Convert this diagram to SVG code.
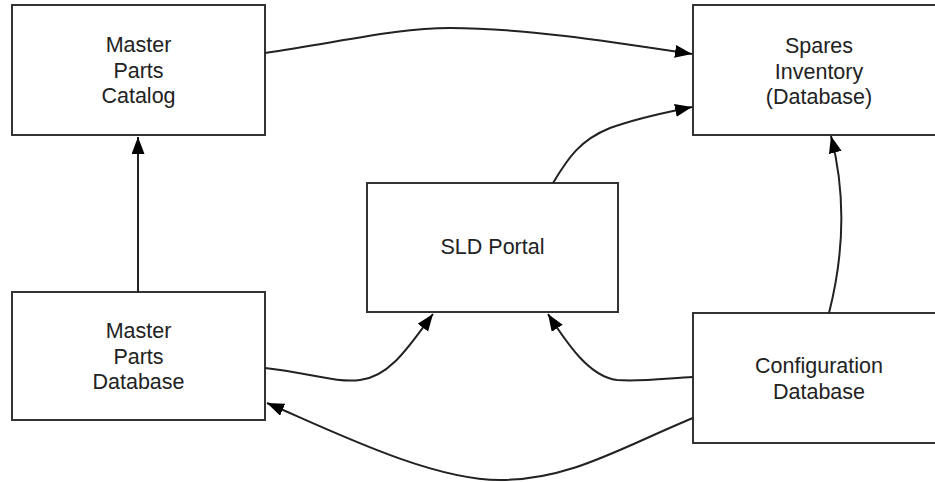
<svg xmlns="http://www.w3.org/2000/svg" width="935" height="482" viewBox="0 0 935 482">
<style>
.box{fill:#fff;stroke:#333;stroke-width:2}
.lbl{font-family:"Liberation Sans",Arial,sans-serif;font-size:21.5px;fill:#222;text-anchor:middle}
.edge{fill:none;stroke:#222;stroke-width:2}
</style>
<defs>
<marker id="arr" markerUnits="userSpaceOnUse" markerWidth="18" markerHeight="14" refX="17" refY="6.5" orient="auto">
<path d="M0,0 L17,6.5 L0,13 z" fill="#000"/>
</marker>
</defs>
<rect width="935" height="482" fill="#fff"/>
<g id="mpc">
<rect class="box" x="12" y="5" width="253" height="130"/>
<text class="lbl" x="138.5" y="52">Master</text>
<text class="lbl" x="138.5" y="77.5">Parts</text>
<text class="lbl" x="138.5" y="103">Catalog</text>
</g>
<g id="spares">
<rect class="box" x="693" y="5" width="253" height="130"/>
<text class="lbl" x="819" y="52.5">Spares</text>
<text class="lbl" x="819" y="78.5">Inventory</text>
<text class="lbl" x="819" y="104">(Database)</text>
</g>
<g id="sld">
<rect class="box" x="367" y="183" width="251" height="129"/>
<text class="lbl" x="492.5" y="254">SLD Portal</text>
</g>
<g id="mpd">
<rect class="box" x="12" y="292" width="253" height="128"/>
<text class="lbl" x="138.5" y="338">Master</text>
<text class="lbl" x="138.5" y="363.5">Parts</text>
<text class="lbl" x="138.5" y="389">Database</text>
</g>
<g id="config">
<rect class="box" x="693" y="313" width="253" height="130"/>
<text class="lbl" x="819" y="373">Configuration</text>
<text class="lbl" x="819" y="398.5">Database</text>
</g>
<g id="connectors">
<path class="edge" marker-end="url(#arr)" d="M138,292 L138,137"/>
<path class="edge" marker-end="url(#arr)" d="M265,53 C350,40 400,28 450,28 C520,28 600,40 692,54"/>
<path class="edge" marker-end="url(#arr)" d="M553,183 C568,158 580,140 610,128 C640,117 668,112 692,107"/>
<path class="edge" marker-end="url(#arr)" d="M829,313 C845,250 845,190 831,136"/>
<path class="edge" marker-end="url(#arr)" d="M265,368 C310,373 335,383 360,380 C390,377 410,345 433,314"/>
<path class="edge" marker-end="url(#arr)" d="M693,377 C670,378 640,382 617,380 C590,377 568,345 548,314"/>
<path class="edge" marker-end="url(#arr)" d="M693,418 C620,448 570,480 500,480 C430,480 330,430 267,403"/>
</g>
</svg>
